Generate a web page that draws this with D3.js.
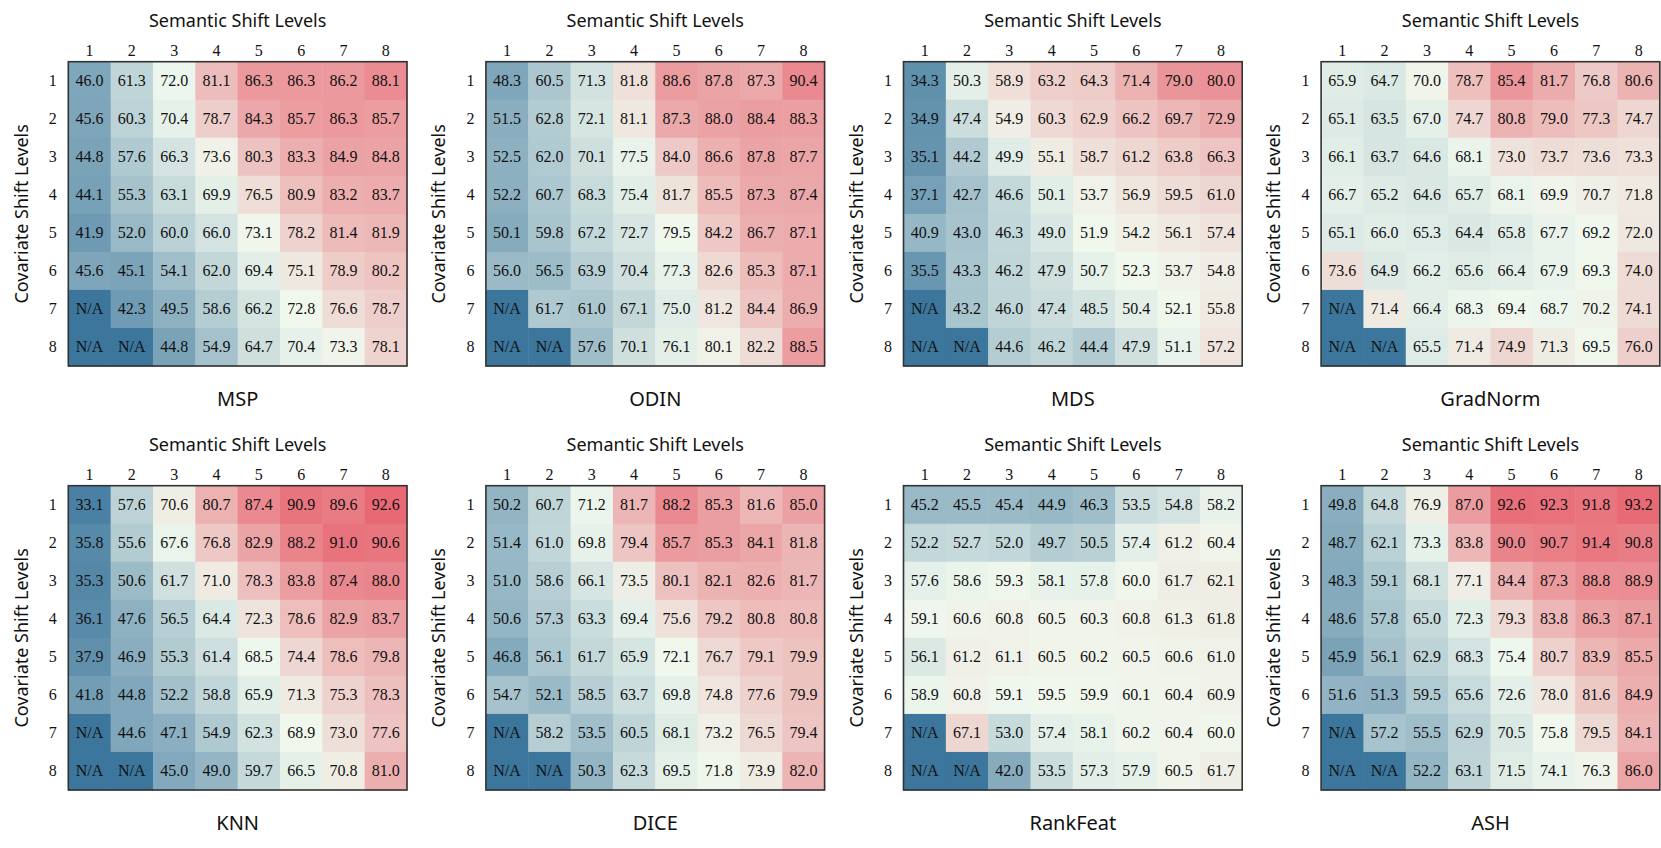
<!DOCTYPE html>
<html>
<head>
<meta charset="utf-8">
<script src="https://cdn.jsdelivr.net/npm/d3@7"></script>
<style>
  html, body { margin: 0; padding: 0; background: #ffffff; }
  svg { display: block; }
</style>
</head>
<body>
<svg id="chart" width="1661" height="848"></svg>
<script>
// ---------------- DATA ----------------
const levels = ["1", "2", "3", "4", "5", "6", "7", "8"];
const xTitle = "Semantic Shift Levels";
const yTitle = "Covariate Shift Levels";
const methods = ["MSP", "ODIN", "MDS", "GradNorm", "KNN", "DICE", "RankFeat", "ASH"];
const NA = null;

const msp = [
  [46.0, 61.3, 72.0, 81.1, 86.3, 86.3, 86.2, 88.1],
  [45.6, 60.3, 70.4, 78.7, 84.3, 85.7, 86.3, 85.7],
  [44.8, 57.6, 66.3, 73.6, 80.3, 83.3, 84.9, 84.8],
  [44.1, 55.3, 63.1, 69.9, 76.5, 80.9, 83.2, 83.7],
  [41.9, 52.0, 60.0, 66.0, 73.1, 78.2, 81.4, 81.9],
  [45.6, 45.1, 54.1, 62.0, 69.4, 75.1, 78.9, 80.2],
  [NA,   42.3, 49.5, 58.6, 66.2, 72.8, 76.6, 78.7],
  [NA,   NA,   44.8, 54.9, 64.7, 70.4, 73.3, 78.1]
];
const odin = [
  [48.3, 60.5, 71.3, 81.8, 88.6, 87.8, 87.3, 90.4],
  [51.5, 62.8, 72.1, 81.1, 87.3, 88.0, 88.4, 88.3],
  [52.5, 62.0, 70.1, 77.5, 84.0, 86.6, 87.8, 87.7],
  [52.2, 60.7, 68.3, 75.4, 81.7, 85.5, 87.3, 87.4],
  [50.1, 59.8, 67.2, 72.7, 79.5, 84.2, 86.7, 87.1],
  [56.0, 56.5, 63.9, 70.4, 77.3, 82.6, 85.3, 87.1],
  [NA,   61.7, 61.0, 67.1, 75.0, 81.2, 84.4, 86.9],
  [NA,   NA,   57.6, 70.1, 76.1, 80.1, 82.2, 88.5]
];
const mds = [
  [34.3, 50.3, 58.9, 63.2, 64.3, 71.4, 79.0, 80.0],
  [34.9, 47.4, 54.9, 60.3, 62.9, 66.2, 69.7, 72.9],
  [35.1, 44.2, 49.9, 55.1, 58.7, 61.2, 63.8, 66.3],
  [37.1, 42.7, 46.6, 50.1, 53.7, 56.9, 59.5, 61.0],
  [40.9, 43.0, 46.3, 49.0, 51.9, 54.2, 56.1, 57.4],
  [35.5, 43.3, 46.2, 47.9, 50.7, 52.3, 53.7, 54.8],
  [NA,   43.2, 46.0, 47.4, 48.5, 50.4, 52.1, 55.8],
  [NA,   NA,   44.6, 46.2, 44.4, 47.9, 51.1, 57.2]
];
const gradnorm = [
  [65.9, 64.7, 70.0, 78.7, 85.4, 81.7, 76.8, 80.6],
  [65.1, 63.5, 67.0, 74.7, 80.8, 79.0, 77.3, 74.7],
  [66.1, 63.7, 64.6, 68.1, 73.0, 73.7, 73.6, 73.3],
  [66.7, 65.2, 64.6, 65.7, 68.1, 69.9, 70.7, 71.8],
  [65.1, 66.0, 65.3, 64.4, 65.8, 67.7, 69.2, 72.0],
  [73.6, 64.9, 66.2, 65.6, 66.4, 67.9, 69.3, 74.0],
  [NA,   71.4, 66.4, 68.3, 69.4, 68.7, 70.2, 74.1],
  [NA,   NA,   65.5, 71.4, 74.9, 71.3, 69.5, 76.0]
];
const knn = [
  [33.1, 57.6, 70.6, 80.7, 87.4, 90.9, 89.6, 92.6],
  [35.8, 55.6, 67.6, 76.8, 82.9, 88.2, 91.0, 90.6],
  [35.3, 50.6, 61.7, 71.0, 78.3, 83.8, 87.4, 88.0],
  [36.1, 47.6, 56.5, 64.4, 72.3, 78.6, 82.9, 83.7],
  [37.9, 46.9, 55.3, 61.4, 68.5, 74.4, 78.6, 79.8],
  [41.8, 44.8, 52.2, 58.8, 65.9, 71.3, 75.3, 78.3],
  [NA,   44.6, 47.1, 54.9, 62.3, 68.9, 73.0, 77.6],
  [NA,   NA,   45.0, 49.0, 59.7, 66.5, 70.8, 81.0]
];
const dice = [
  [50.2, 60.7, 71.2, 81.7, 88.2, 85.3, 81.6, 85.0],
  [51.4, 61.0, 69.8, 79.4, 85.7, 85.3, 84.1, 81.8],
  [51.0, 58.6, 66.1, 73.5, 80.1, 82.1, 82.6, 81.7],
  [50.6, 57.3, 63.3, 69.4, 75.6, 79.2, 80.8, 80.8],
  [46.8, 56.1, 61.7, 65.9, 72.1, 76.7, 79.1, 79.9],
  [54.7, 52.1, 58.5, 63.7, 69.8, 74.8, 77.6, 79.9],
  [NA,   58.2, 53.5, 60.5, 68.1, 73.2, 76.5, 79.4],
  [NA,   NA,   50.3, 62.3, 69.5, 71.8, 73.9, 82.0]
];
const rankfeat = [
  [45.2, 45.5, 45.4, 44.9, 46.3, 53.5, 54.8, 58.2],
  [52.2, 52.7, 52.0, 49.7, 50.5, 57.4, 61.2, 60.4],
  [57.6, 58.6, 59.3, 58.1, 57.8, 60.0, 61.7, 62.1],
  [59.1, 60.6, 60.8, 60.5, 60.3, 60.8, 61.3, 61.8],
  [56.1, 61.2, 61.1, 60.5, 60.2, 60.5, 60.6, 61.0],
  [58.9, 60.8, 59.1, 59.5, 59.9, 60.1, 60.4, 60.9],
  [NA,   67.1, 53.0, 57.4, 58.1, 60.2, 60.4, 60.0],
  [NA,   NA,   42.0, 53.5, 57.3, 57.9, 60.5, 61.7]
];
const ash = [
  [49.8, 64.8, 76.9, 87.0, 92.6, 92.3, 91.8, 93.2],
  [48.7, 62.1, 73.3, 83.8, 90.0, 90.7, 91.4, 90.8],
  [48.3, 59.1, 68.1, 77.1, 84.4, 87.3, 88.8, 88.9],
  [48.6, 57.8, 65.0, 72.3, 79.3, 83.8, 86.3, 87.1],
  [45.9, 56.1, 62.9, 68.3, 75.4, 80.7, 83.9, 85.5],
  [51.6, 51.3, 59.5, 65.6, 72.6, 78.0, 81.6, 84.9],
  [NA,   57.2, 55.5, 62.9, 70.5, 75.8, 79.5, 84.1],
  [NA,   NA,   52.2, 63.1, 71.5, 74.1, 76.3, 86.0]
];
const panelData = [msp, odin, mds, gradnorm, knn, dice, rankfeat, ash];

// ---------------- LAYOUT / STYLE ----------------
const colorLow = "#3c769c", colorMid = "#f0f8ee", colorHigh = "#e75b68";
const vLow = 30, vHigh = 95;
const panelX0 = 68.3, panelDX = 417.6, panelW = 338.7;
const panelY0 = 61.7, panelDY = 424, panelH = 304.3;
const sansFont = "'Noto Sans', 'DejaVu Sans', sans-serif";
const serifFont = "'Liberation Serif', 'Times New Roman', serif";

const svg = d3.select("#chart");

panelData.forEach((data, p) => {
  const col = p % 4, row = Math.floor(p / 4);
  const x0 = panelX0 + col * panelDX;
  const y0 = panelY0 + row * panelDY;

  const x = d3.scaleBand().domain(levels).range([x0, x0 + panelW]).padding(0);
  const y = d3.scaleBand().domain(levels).range([y0, y0 + panelH]).padding(0);

  const flat = data.flat().filter(v => v !== null);
  const center = d3.median(flat);
  const color = d3.scaleLinear()
    .domain([vLow, center, vHigh])
    .range([colorLow, colorMid, colorHigh])
    .interpolate(d3.interpolateRgb)
    .clamp(true);

  const cells = [];
  data.forEach((r, i) => r.forEach((v, j) => cells.push({ r: levels[i], c: levels[j], v })));

  const g = svg.append("g");

  g.selectAll("rect.cell").data(cells).enter().append("rect")
    .attr("class", "cell")
    .attr("x", d => x(d.c))
    .attr("y", d => y(d.r))
    .attr("width", x.bandwidth() + 0.5)
    .attr("height", y.bandwidth() + 0.5)
    .attr("fill", d => d.v === null ? colorLow : color(d.v));

  g.selectAll("text.val").data(cells).enter().append("text")
    .attr("class", "val")
    .attr("x", d => x(d.c) + x.bandwidth() / 2)
    .attr("y", d => y(d.r) + y.bandwidth() / 2)
    .attr("text-anchor", "middle")
    .attr("dominant-baseline", "central")
    .attr("font-family", serifFont)
    .attr("font-size", 16)
    .attr("fill", "#111")
    .text(d => d.v === null ? "N/A" : d.v.toFixed(1));

  // border
  g.append("rect")
    .attr("x", x0).attr("y", y0)
    .attr("width", panelW).attr("height", panelH)
    .attr("fill", "none")
    .attr("stroke", "#333")
    .attr("stroke-width", 1.6);

  // column tick labels (top)
  g.selectAll("text.ct").data(levels).enter().append("text")
    .attr("class", "ct")
    .attr("x", d => x(d) + x.bandwidth() / 2)
    .attr("y", y0 - 11)
    .attr("text-anchor", "middle")
    .attr("dominant-baseline", "central")
    .attr("font-family", serifFont)
    .attr("font-size", 16)
    .attr("fill", "#111")
    .text(d => d);

  // row tick labels (left)
  g.selectAll("text.rt").data(levels).enter().append("text")
    .attr("class", "rt")
    .attr("x", x0 - 15.5)
    .attr("y", d => y(d) + y.bandwidth() / 2)
    .attr("text-anchor", "middle")
    .attr("dominant-baseline", "central")
    .attr("font-family", serifFont)
    .attr("font-size", 16)
    .attr("fill", "#111")
    .text(d => d);

  // top title
  g.append("text")
    .attr("x", x0 + panelW / 2)
    .attr("y", y0 - 41.5)
    .attr("text-anchor", "middle")
    .attr("dominant-baseline", "central")
    .attr("font-family", sansFont)
    .attr("font-size", 18)
    .attr("fill", "#111")
    .text(xTitle);

  // left title
  g.append("text")
    .attr("transform", `translate(${x0 - 47.8},${y0 + panelH / 2}) rotate(-90)`)
    .attr("text-anchor", "middle")
    .attr("dominant-baseline", "central")
    .attr("font-family", sansFont)
    .attr("font-size", 18)
    .attr("fill", "#111")
    .text(yTitle);

  // method label bottom
  g.append("text")
    .attr("x", x0 + panelW / 2)
    .attr("y", y0 + panelH + 32)
    .attr("text-anchor", "middle")
    .attr("dominant-baseline", "central")
    .attr("font-family", sansFont)
    .attr("font-size", 20)
    .attr("fill", "#111")
    .text(methods[p]);
});
</script>
</body>
</html>
